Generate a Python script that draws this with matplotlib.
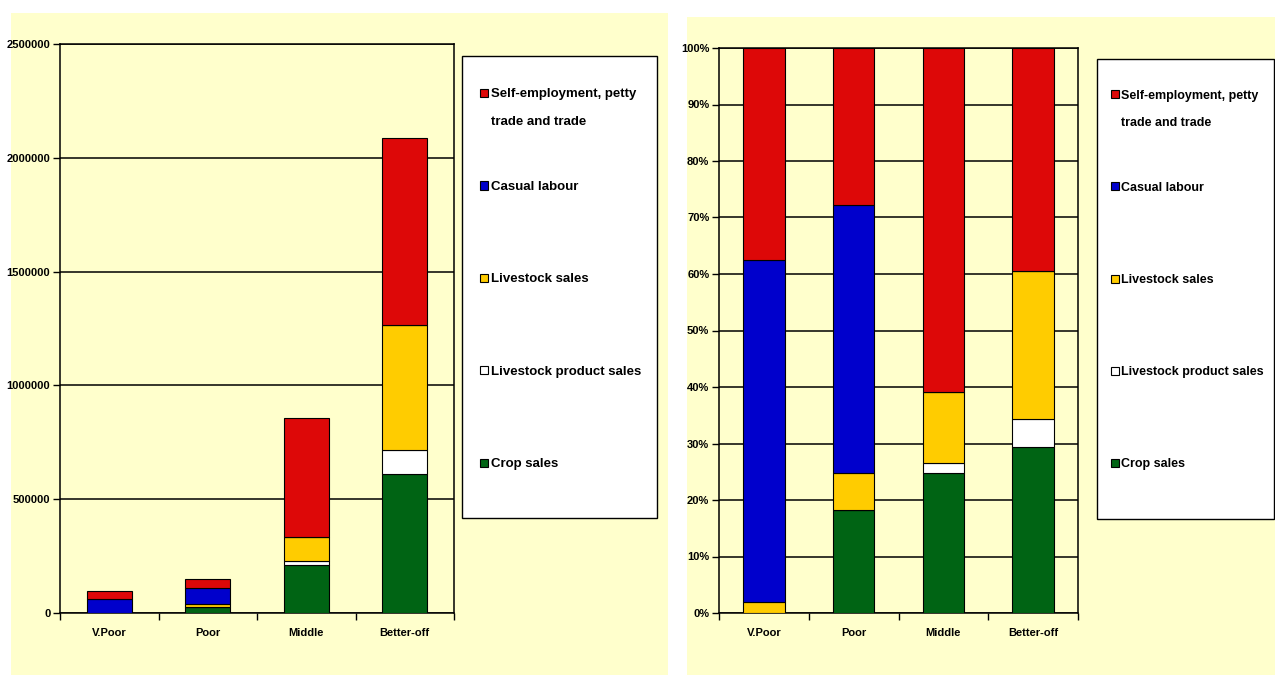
import numpy as np
import matplotlib
matplotlib.use("Agg")
import matplotlib.pyplot as plt
from matplotlib.patches import Rectangle
from matplotlib.ticker import FuncFormatter, FixedLocator

plt.rcParams['font.family'] = ['Liberation Sans', 'DejaVu Sans']
plt.rcParams['font.weight'] = 'bold'

# wealth groups
groups = ["V.Poor", "Poor", "Middle", "Better-off"]

# annual cash income by source
crop_sales = [0, 27600, 212500, 611500]
livestock_product_sales = [0, 0, 15400, 106400]
livestock_sales = [1900, 9800, 108000, 546800]
casual_labour = [57500, 71600, 0, 0]
self_employment = [35600, 42000, 521000, 822300]

labels = ["Crop sales", "Livestock product sales", "Livestock sales",
          "Casual labour", "Self-employment, petty"]
label_cont = "trade and trade"   # second line of the last label
colors = ["#006414", "#FFFFFF", "#FFCC00", "#0000CC", "#DD0808"]

bg = "#FFFFCC"
W, H = 1275, 675


def fx(px):
    return px / W


def fy(py):
    return 1 - py / H


def draw_stack(ax, series, width=0.46):
    x = np.arange(len(groups))
    bottom = np.zeros(len(groups))
    for vals, col, lab in zip(series, colors, labels):
        vals = np.asarray(vals, dtype=float)
        ax.bar(x, vals, width, bottom=bottom, color=col, edgecolor="black",
               linewidth=0.8, label=lab, zorder=3)
        bottom = bottom + vals
    ax.set_xlim(-0.5, len(groups) - 0.5)
    ax.set_xticks(x)
    ax.set_xticklabels(groups, fontsize=8, fontweight="bold")
    ax.tick_params(axis="x", which="major", length=0, pad=11)
    ax.xaxis.set_minor_locator(FixedLocator(np.arange(-0.5, len(groups), 1.0)))
    ax.tick_params(axis="x", which="minor", length=5, width=1, direction="out")
    ax.tick_params(axis="y", length=5, width=1, direction="out", labelsize=8, pad=2)
    ax.set_facecolor(bg)
    ax.yaxis.grid(True, color="black", linewidth=1.1, zorder=0)
    ax.set_axisbelow(True)
    for s in ax.spines.values():
        s.set_color("black")
        s.set_linewidth(1.1)


def add_legend(ax, box, text_xy, size, spacing):
    fig = ax.figure
    x0, y0, x1, y1 = box
    fig.patches.append(Rectangle((fx(x0), fy(y1)), fx(x1) - fx(x0), fy(y0) - fy(y1),
                                 transform=fig.transFigure, facecolor="white",
                                 edgecolor="black", linewidth=1.0, zorder=-0.5))
    h, l = ax.get_legend_handles_labels()
    leg = ax.legend(h[::-1], l[::-1], loc="upper left",
                    bbox_to_anchor=(fx(text_xy[0]), fy(text_xy[1])),
                    bbox_transform=fig.transFigure, frameon=False,
                    prop={"size": size, "weight": "bold"},
                    handlelength=0.6, handleheight=0.6, handletextpad=0.2,
                    labelspacing=spacing, borderpad=0, borderaxespad=0)
    return leg


def add_second_line(fig, leg, size, gap=27.5):
    fig.canvas.draw()
    bb = leg.get_texts()[0].get_window_extent()
    fig.text(bb.x0 / W, ((bb.y0 + bb.y1) / 2 - gap) / H, label_cont,
             ha="left", va="center", fontsize=size, fontweight="bold")


fig = plt.figure(figsize=(W / 100, H / 100), dpi=100, facecolor="white")

# panel backgrounds
fig.patches.append(Rectangle((fx(11), 0), fx(668) - fx(11), fy(13), transform=fig.transFigure,
                             facecolor=bg, edgecolor="none", zorder=-1))
fig.patches.append(Rectangle((fx(687), 0), 1 - fx(687), fy(17), transform=fig.transFigure,
                             facecolor=bg, edgecolor="none", zorder=-1))

series = [crop_sales, livestock_product_sales, livestock_sales, casual_labour, self_employment]

# left: absolute values
ax1 = fig.add_axes([fx(60), fy(613), fx(454) - fx(60), fy(44) - fy(613)])
draw_stack(ax1, series)
ax1.set_ylim(0, 2500000)
ax1.set_yticks(np.arange(0, 2500001, 500000))
ax1.yaxis.set_major_formatter(FuncFormatter(lambda v, p: "%d" % v))
leg1 = add_legend(ax1, (462, 56, 657, 518), (480, 88.5), 9.5, 6.1)

# right: shares of total
totals = np.sum(np.array(series, dtype=float), axis=0)
shares = [np.asarray(s, dtype=float) / totals for s in series]
ax2 = fig.add_axes([fx(719), fy(613), fx(1078) - fx(719), fy(48) - fy(613)])
draw_stack(ax2, shares)
ax2.set_ylim(0, 1)
ax2.set_yticks(np.arange(0, 1.01, 0.1))
ax2.yaxis.set_major_formatter(FuncFormatter(lambda v, p: "%d%%" % round(v * 100)))
leg2 = add_legend(ax2, (1097, 59, 1274, 519), (1111, 89.5), 9, 6.42)

add_second_line(fig, leg1, 9.5)
add_second_line(fig, leg2, 9)

fig.savefig("out.png", dpi=100, facecolor="white")
